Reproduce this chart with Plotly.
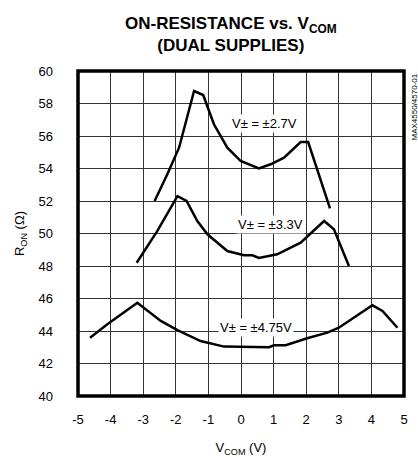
import plotly.graph_objects as go

# Data
x_27 = [-2.65, -2.26, -1.90, -1.44, -1.16, -0.83, -0.42, -0.01, 0.55, 0.91, 1.32, 1.83, 2.06, 2.73]
y_27 = [52.0, 53.64, 55.28, 58.77, 58.52, 56.72, 55.28, 54.46, 54.0, 54.26, 54.67, 55.63, 55.63, 51.55]

x_33 = [-3.20, -2.57, -1.95, -1.67, -1.34, -1.03, -0.42, 0.09, 0.35, 0.55, 1.11, 1.83, 2.55, 2.85, 3.31]
y_33 = [48.2, 50.15, 52.3, 52.0, 50.77, 49.95, 48.92, 48.66, 48.66, 48.5, 48.72, 49.44, 50.77, 50.26, 48.0]

x_475 = [-4.63, -4.10, -3.18, -2.46, -1.95, -1.24, -0.52, 0.04, 0.86, 1.01, 1.37, 2.03, 2.65, 3.0, 3.47, 4.03, 4.34, 4.80]
y_475 = [43.59, 44.41, 45.74, 44.62, 44.06, 43.38, 43.04, 43.02, 43.0, 43.12, 43.12, 43.55, 43.9, 44.2, 44.82, 45.58, 45.23, 44.2]

series_labels = ["V± = ±2.7V", "V± = ±3.3V", "V± = ±4.75V"]
label_pos = [(0.71, 56.8), (0.91, 50.56), (0.45, 44.2)]

x_ticks = [-5, -4, -3, -2, -1, 0, 1, 2, 3, 4, 5]
x_ticktext = ["-5", "-4", "-3", "-2", "-1", "0", "1", "2", "3", "4", "5"]
y_ticks = [40, 42, 44, 46, 48, 50, 52, 54, 56, 58, 60]

FONT = "Liberation Sans, Arial, sans-serif"

fig = go.Figure()
for xs, ys in [(x_27, y_27), (x_33, y_33), (x_475, y_475)]:
    fig.add_trace(go.Scatter(x=xs, y=ys, mode="lines",
                             line=dict(color="black", width=2.5),
                             showlegend=False, hoverinfo="skip"))

for txt, (lx, ly) in zip(series_labels, label_pos):
    fig.add_annotation(x=lx, y=ly, xref="x", yref="y", text=txt, showarrow=False,
                       font=dict(family=FONT, size=13, color="black"),
                       bgcolor="white", borderpad=1)

# title
fig.add_annotation(x=-0.3, y=1.0, xref="x", yref="paper", yanchor="bottom",
                   text="<b>ON-RESISTANCE vs. V<sub>COM</sub><br>(DUAL SUPPLIES)</b>",
                   showarrow=False, yshift=14,
                   font=dict(family=FONT, size=17, color="black"))

# side code
fig.add_annotation(x=1.0, y=1.0, xref="paper", yref="paper", xanchor="center", yanchor="top",
                   text="MAX4550/4570-01", textangle=-90, showarrow=False,
                   xshift=10, yshift=-1,
                   font=dict(family=FONT, size=8, color="black"))

fig.add_shape(type="rect", xref="paper", yref="paper", x0=0, x1=1, y0=0, y1=1,
              line=dict(color="black", width=3.5), layer="above")

fig.update_layout(
    width=418, height=457,
    margin=dict(l=78, r=14, t=71, b=61),
    paper_bgcolor="white", plot_bgcolor="white",
    font=dict(family=FONT, size=13, color="black"),
    xaxis=dict(range=[-5, 5], tickvals=x_ticks, ticktext=x_ticktext,
               showgrid=True, gridcolor="#333", gridwidth=1, zeroline=False,
               showline=False, ticks="", automargin=False,
               ticklabelstandoff=14,
               title=dict(text="V<sub>COM</sub> (V)", standoff=18,
                          font=dict(family=FONT, size=13))),
    yaxis=dict(range=[40, 60], tickvals=y_ticks,
               showgrid=True, gridcolor="#333", gridwidth=1, zeroline=False,
               showline=False, ticks="", automargin=False,
               ticklabelstandoff=24,
               title=dict(text="R<sub>ON</sub> (Ω)", standoff=10,
                          font=dict(family=FONT, size=13))),
)

fig.write_html("out.html", config={"displayModeBar": False},
               post_script="document.body.style.margin='0';document.body.style.overflow='hidden';")
